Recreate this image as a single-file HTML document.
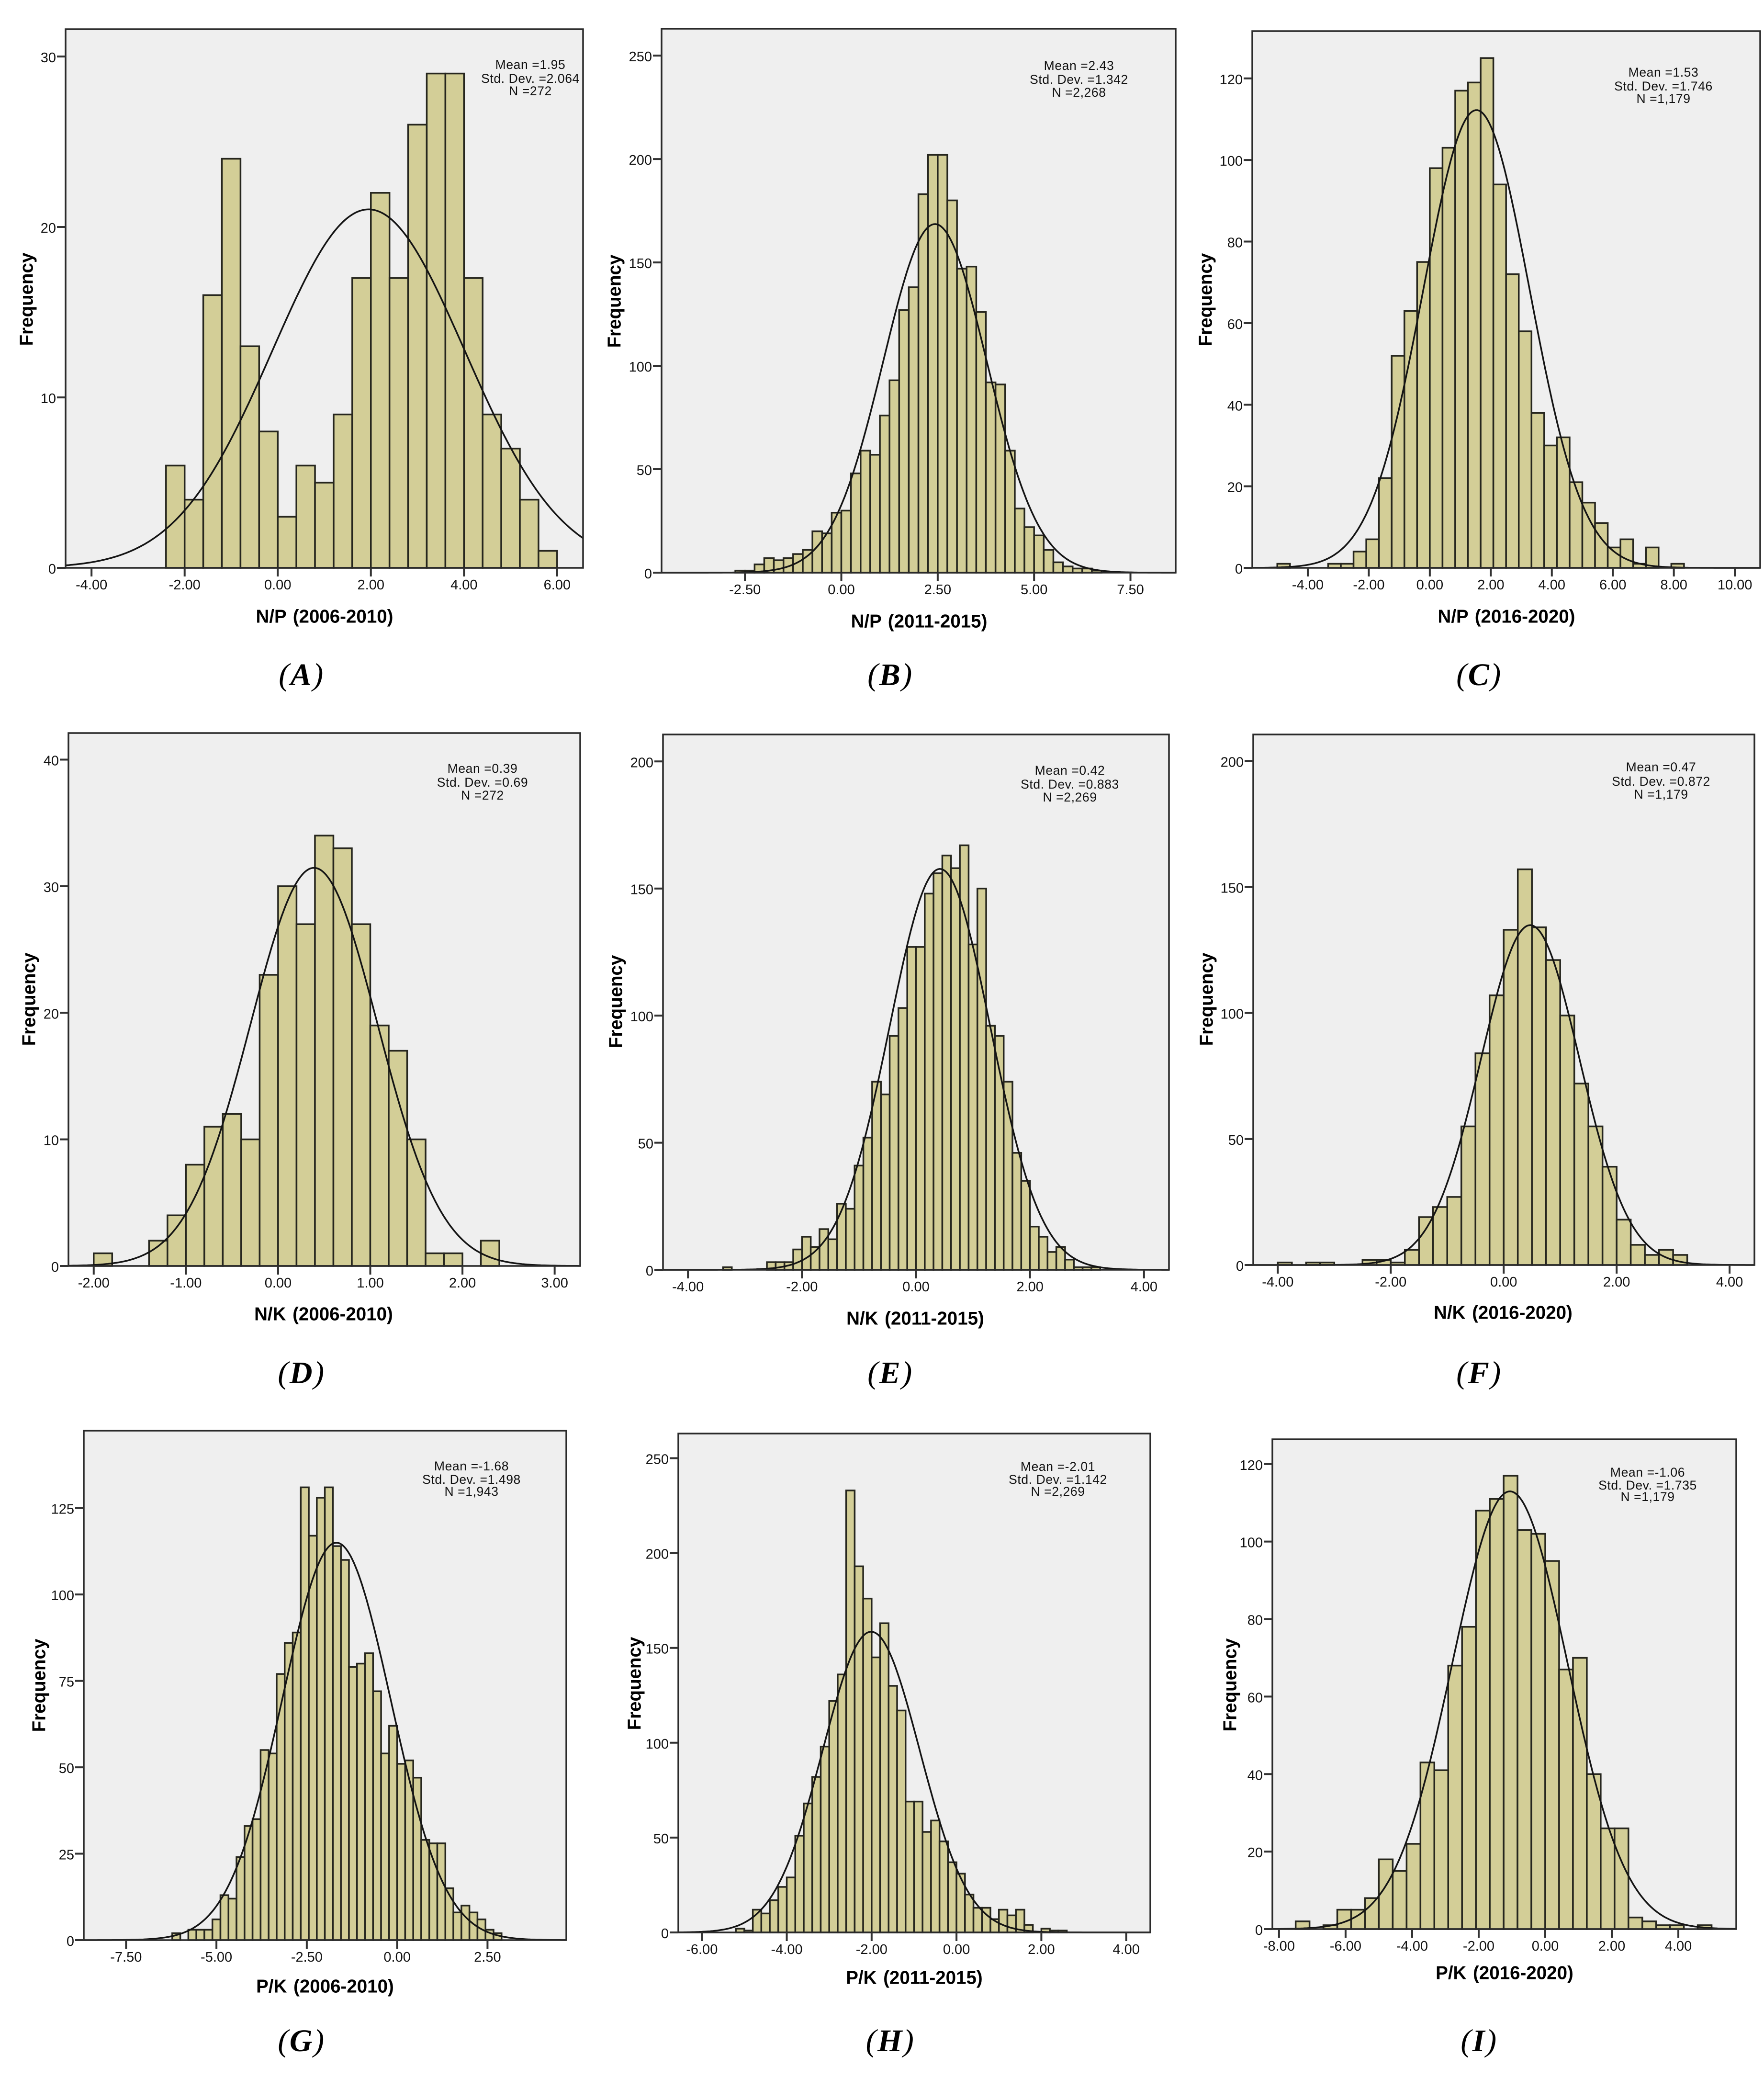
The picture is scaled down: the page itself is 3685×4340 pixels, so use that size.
<!DOCTYPE html>
<html lang="en">
<head>
<meta charset="utf-8">
<title>Histograms of nutrient ratios</title>
<style>
html,body{margin:0;padding:0;background:#fff;}
#figure{position:relative;width:3685px;height:4340px;overflow:hidden;background:#fff;}
svg{position:absolute;left:0;top:0;display:block;}
text{font-family:"Liberation Sans",Arial,sans-serif;fill:#111;}
.tick{font-size:29px;}
.stat{font-size:26.5px;letter-spacing:0.6px;text-anchor:middle;dominant-baseline:central;}
.axis-title{font-size:38.5px;font-weight:bold;word-spacing:3px;text-anchor:middle;dominant-baseline:central;fill:#000;}
.caption{font-family:"Liberation Serif",serif;font-size:66px;font-style:italic;letter-spacing:2.5px;text-anchor:middle;dominant-baseline:central;fill:#000;}
.caption tspan{font-weight:bold;}
</style>
</head>
<body>
<div id="figure">
<svg id="chart" xmlns="http://www.w3.org/2000/svg" width="3685" height="4340" viewBox="0 0 3685 4340"></svg>
</div>
<script>
// ---- Panel titles and captions ----
const panelLetters = ['A','B','C','D','E','F','G','H','I'];
const panelTitles = ['N/P (2006-2010)','N/P (2011-2015)','N/P (2016-2020)','N/K (2006-2010)','N/K (2011-2015)','N/K (2016-2020)','P/K (2006-2010)','P/K (2011-2015)','P/K (2016-2020)'];

// ---- Fitted normal statistics ----
const means = [1.95,2.43,1.53,0.39,0.42,0.47,-1.68,-2.01,-1.06];
const stdDevs = [2.064,1.342,1.746,0.69,0.883,0.872,1.498,1.142,1.735];
const sampleSizes = [272,2268,1179,272,2269,1179,1943,2269,1179];
const statLabels = [
  ['Mean =1.95','Std. Dev. =2.064','N =272'],
  ['Mean =2.43','Std. Dev. =1.342','N =2,268'],
  ['Mean =1.53','Std. Dev. =1.746','N =1,179'],
  ['Mean =0.39','Std. Dev. =0.69','N =272'],
  ['Mean =0.42','Std. Dev. =0.883','N =2,269'],
  ['Mean =0.47','Std. Dev. =0.872','N =1,179'],
  ['Mean =-1.68','Std. Dev. =1.498','N =1,943'],
  ['Mean =-2.01','Std. Dev. =1.142','N =2,269'],
  ['Mean =-1.06','Std. Dev. =1.735','N =1,179']
];

// ---- Histogram bins ----
const binWidths = [0.4,0.25,5/12,0.2,2/13,0.25,2/9,0.2,5/12];
const binStarts = [-2.4,-2.75,-5,-2,-22*2/13,-4,-28*2/9,-5.2,-7.5];
const countsA = [6,4,16,24,13,8,3,6,5,9,17,22,17,26,29,29,17,9,7,4,1];
const countsB = [1,1,4,7,6,7,9,11,20,19,29,30,48,59,57,76,93,127,138,183,202,202,180,147,148,126,92,91,59,31,22,18,11,5,3,2,2,1];
const countsC = [1,0,0,0,1,1,4,7,22,52,63,75,98,103,117,119,125,94,72,58,38,30,32,21,16,11,5,7,1,5,0,1];
const countsD = [1,0,0,2,4,8,11,12,10,23,30,27,34,33,27,19,17,10,1,1,0,2];
const countsE = [1,0,0,0,0,3,3,3,8,13,9,16,12,26,24,41,52,74,69,92,103,127,127,148,156,163,158,167,128,150,96,92,74,46,35,17,13,7,9,4,1,1,1];
const countsF = [1,0,1,1,0,0,2,2,1,6,19,23,27,55,84,107,133,157,134,121,99,72,55,39,18,8,4,6,4];
const countsG = [2,0,3,3,3,6,13,12,24,33,35,55,54,77,86,89,131,117,128,131,114,110,79,80,83,72,54,62,51,52,47,29,28,28,15,8,10,8,6,3,2];
const countsH = [2,1,12,10,17,24,29,51,68,82,98,122,136,233,193,176,145,163,130,117,69,69,53,59,48,37,31,20,13,13,7,12,9,12,4,0,2,1,1];
const countsI = [2,0,1,5,5,8,18,15,22,43,41,68,78,108,111,117,103,102,95,67,70,40,26,26,3,2,1,1,0,1];
const allCounts = [countsA,countsB,countsC,countsD,countsE,countsF,countsG,countsH,countsI];

// ---- Tick labels ----
const xTickLabels = [
  ['-4.00','-2.00','0.00','2.00','4.00','6.00'],
  ['-2.50','0.00','2.50','5.00','7.50'],
  ['-4.00','-2.00','0.00','2.00','4.00','6.00','8.00','10.00'],
  ['-2.00','-1.00','0.00','1.00','2.00','3.00'],
  ['-4.00','-2.00','0.00','2.00','4.00'],
  ['-4.00','-2.00','0.00','2.00','4.00'],
  ['-7.50','-5.00','-2.50','0.00','2.50'],
  ['-6.00','-4.00','-2.00','0.00','2.00','4.00'],
  ['-8.00','-6.00','-4.00','-2.00','0.00','2.00','4.00']
];
const yTickLabels = [
  ['0','10','20','30'],
  ['0','50','100','150','200','250'],
  ['0','20','40','60','80','100','120'],
  ['0','10','20','30','40'],
  ['0','50','100','150','200'],
  ['0','50','100','150','200'],
  ['0','25','50','75','100','125'],
  ['0','50','100','150','200','250'],
  ['0','20','40','60','80','100','120']
];

// ---- Axis domains ----
const xDomainMin = [-4.557,-4.663,-5.82,-2.274,-4.438,-4.435,-8.67,-6.556,-8.2];
const xDomainMax = [6.557,8.673,10.83,3.277,4.438,4.44,4.68,4.568,5.74];
const yDomainMax = [31.6,263,131.6,42.1,210.6,210.5,147.4,263,126.4];

// ---- Layout (pixels), separate from data ----
const layout = [
  {l:137,r:1218,t:61,b:1186,  tx:678,ty:1288,fx:56,fy:625,  sx:1108,sy:[135,164,190],  cx:630,cy:1409},
  {l:1382,r:2456,t:60,b:1196, tx:1920,ty:1298,fx:1284,fy:629, sx:2254,sy:[137,166,193], cx:1860,cy:1409},
  {l:2616,r:3677,t:65,b:1186, tx:3147,ty:1288,fx:2519,fy:626, sx:3475,sy:[151,180,206], cx:3090,cy:1409},
  {l:143,r:1212,t:1531,b:2644, tx:676,ty:2745,fx:61,fy:2087, sx:1008,sy:[1605,1634,1661], cx:630,cy:2867},
  {l:1385,r:2442,t:1534,b:2652, tx:1912,ty:2754,fx:1287,fy:2092, sx:2235,sy:[1609,1638,1665], cx:1860,cy:2867},
  {l:2618,r:3665,t:1534,b:2642, tx:3140,ty:2742,fx:2521,fy:2087, sx:3470,sy:[1602,1632,1659], cx:3090,cy:2867},
  {l:175,r:1183,t:2988,b:4052, tx:679,ty:4149,fx:82,fy:3520, sx:985,sy:[3062,3090,3115], cx:630,cy:4262},
  {l:1417,r:2403,t:2994,b:4036, tx:1910,ty:4131,fx:1326,fy:3516, sx:2210,sy:[3063,3090,3115], cx:1860,cy:4262},
  {l:2658,r:3627,t:3006,b:4029, tx:3143,ty:4121,fx:2570,fy:3519, sx:3442,sy:[3075,3102,3126], cx:3090,cy:4262}
];

const NS = 'http://www.w3.org/2000/svg';
const root = document.getElementById('chart');

function make(parent, tag, attrs, content) {
  const el = document.createElementNS(NS, tag);
  for (const k in attrs) el.setAttribute(k, attrs[k]);
  if (content !== undefined) el.textContent = content;
  parent.appendChild(el);
  return el;
}

function drawPanel(i) {
  const box = layout[i];
  const xScale = function (v) {
    return box.l + (v - xDomainMin[i]) / (xDomainMax[i] - xDomainMin[i]) * (box.r - box.l);
  };
  const yScale = function (v) {
    return box.b - v / yDomainMax[i] * (box.b - box.t);
  };

  const group = make(root, 'g', {});
  
  

  const plot = make(group, 'rect', {x: box.l, y: box.t, width: box.r - box.l, height: box.b - box.t, fill: '#efefef'});
  
  

  // bars
  allCounts[i].forEach(function (count, k) {
    if (count <= 0) return;
    const x0 = xScale(binStarts[i] + k * binWidths[i]);
    const x1 = xScale(binStarts[i] + (k + 1) * binWidths[i]);
    const bar = make(group, 'rect', {x: x0, y: yScale(count), width: x1 - x0, height: yScale(0) - yScale(count), fill: '#d3ce97', stroke: '#26261e', 'stroke-width': 3.5});
    
    
  });

  // fitted normal curve, derived from the printed mean, std. dev. and N
  const scaleFactor = sampleSizes[i] * binWidths[i] / (stdDevs[i] * Math.sqrt(2 * Math.PI));
  let d = '';
  for (let s = 0; s <= 300; s++) {
    const v = xDomainMin[i] + (xDomainMax[i] - xDomainMin[i]) * s / 300;
    const z = (v - means[i]) / stdDevs[i];
    const f = scaleFactor * Math.exp(-0.5 * z * z);
    d += (s ? 'L' : 'M') + xScale(v).toFixed(1) + ' ' + yScale(f).toFixed(1);
  }
  const curve = make(group, 'path', {d: d, fill: 'none', stroke: '#141414', 'stroke-width': 3.5});
  
  

  const frame = make(group, 'rect', {x: box.l, y: box.t, width: box.r - box.l, height: box.b - box.t, fill: 'none', stroke: '#2a2a2a', 'stroke-width': 3.5});
  
  

  // x axis ticks
  xTickLabels[i].forEach(function (label) {
    const x = xScale(parseFloat(label));
    const tick = make(group, 'line', {x1: x, x2: x, y1: box.b, y2: box.b + 18, stroke: '#333', 'stroke-width': 4});
    
    
    const text = make(group, 'text', {x: x, y: box.b + 36, class: 'tick', 'text-anchor': 'middle', 'dominant-baseline': 'central'}, label);
    
    
  });

  // y axis ticks
  yTickLabels[i].forEach(function (label) {
    const y = yScale(parseFloat(label));
    const tick = make(group, 'line', {x1: box.l - 18, x2: box.l, y1: y, y2: y, stroke: '#333', 'stroke-width': 4});
    
    
    const text = make(group, 'text', {x: box.l - 20, y: y + 3, class: 'tick', 'text-anchor': 'end', 'dominant-baseline': 'central'}, label);
    
    
  });

  // statistics block
  statLabels[i].forEach(function (line, n) {
    const stat = make(group, 'text', {x: box.sx, y: box.sy[n], class: 'stat'}, line);
    
    
  });

  const xTitle = make(group, 'text', {x: box.tx, y: box.ty, class: 'axis-title'}, panelTitles[i]);
  
  

  const yTitle = make(group, 'text', {x: box.fx, y: box.fy, class: 'axis-title', transform: 'rotate(-90 ' + box.fx + ' ' + box.fy + ')'}, 'Frequency');
  
  

  const caption = make(group, 'text', {x: box.cx, y: box.cy, class: 'caption'});
  
  
  caption.appendChild(document.createTextNode('('));
  make(caption, 'tspan', {}, panelLetters[i]);
  caption.appendChild(document.createTextNode(')'));
}

for (let p = 0; p < 9; p++) drawPanel(p);
</script>
</body>
</html>
